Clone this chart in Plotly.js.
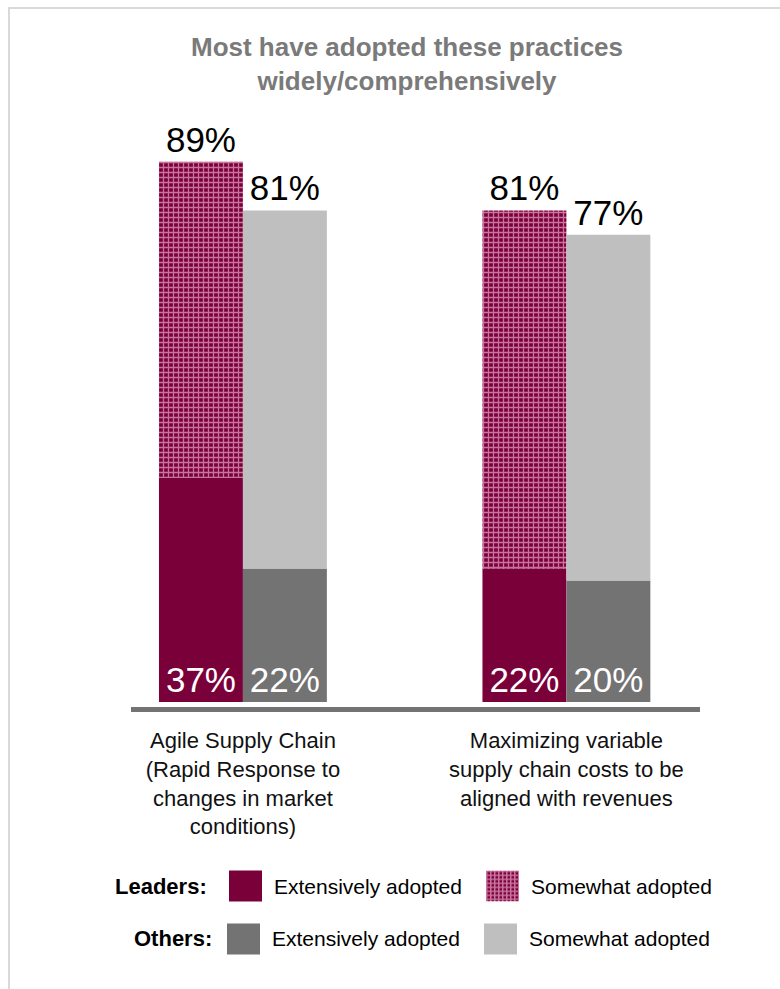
<!DOCTYPE html>
<html>
<head>
<meta charset="utf-8">
<script src="https://cdn.plot.ly/plotly-3.0.1.min.js"></script>
<style>
  html, body { margin: 0; padding: 0; background: #ffffff; }
  #chart { width: 780px; height: 989px; }
</style>
</head>
<body>
<div id="chart"></div>
<script>
// ---- data ----
const categories = [
  "Agile Supply Chain<br>(Rapid Response to<br>changes in market<br>conditions)",
  "Maximizing variable<br>supply chain costs to be<br>aligned with revenues"
];
const leadersExtensive = [37, 22];
const leadersSomewhat = [52, 59];   // totals 89, 81
const othersExtensive = [22, 20];
const othersSomewhat = [59, 57];    // totals 81, 77
const legendGroups = ["Leaders:", "Others:"];
const legendLabels = ["Extensively adopted", "Somewhat adopted"];
const titleText = "Most have adopted these practices<br>widely/comprehensively";

// ---- styling ----
const FONT = 'Arial, Liberation Sans, sans-serif';
const C_LEAD = '#7a0039';
const C_LEAD_FG = '#c9739f';
const C_OTH_EXT = '#737373';
const C_OTH_SOME = '#bfbfbf';

const W = 780, H = 989;
const M = {l: 131, r: 80, t: 120, b: 282};
const PW = W - M.l - M.r, PH = H - M.t - M.b;
const px2x = p => (p - M.l) / PW;
const py2y = p => (H - M.b - p) / PH;

const pct = v => v + '%';
const sum = (a, b) => a.map((v, i) => v + b[i]);
const leadersTotal = sum(leadersExtensive, leadersSomewhat);
const othersTotal = sum(othersExtensive, othersSomewhat);

const patternSpec = {shape: '+', bgcolor: C_LEAD, fgcolor: C_LEAD_FG, size: 5, solidity: 0.45, fillmode: 'replace'};

const traces = [
  {
    type: 'bar', x: categories, y: leadersExtensive, offsetgroup: 'L',
    marker: {color: C_LEAD, line: {width: 0}},
    text: leadersExtensive.map(pct), textposition: 'inside', insidetextanchor: 'start',
    textfont: {family: FONT, size: 35, color: '#ffffff'}, cliponaxis: false,
    hoverinfo: 'skip', showlegend: false
  },
  {
    type: 'bar', x: categories, y: leadersSomewhat, base: leadersExtensive, offsetgroup: 'L',
    marker: {color: C_LEAD, pattern: patternSpec, line: {width: 0}},
    text: leadersTotal.map(pct), textposition: 'outside',
    textfont: {family: FONT, size: 35, color: '#000000'}, cliponaxis: false,
    hoverinfo: 'skip', showlegend: false
  },
  {
    type: 'bar', x: categories, y: othersExtensive, offsetgroup: 'O',
    marker: {color: C_OTH_EXT, line: {width: 0}},
    text: othersExtensive.map(pct), textposition: 'inside', insidetextanchor: 'start',
    textfont: {family: FONT, size: 35, color: '#ffffff'}, cliponaxis: false,
    hoverinfo: 'skip', showlegend: false
  },
  {
    type: 'bar', x: categories, y: othersSomewhat, base: othersExtensive, offsetgroup: 'O',
    marker: {color: C_OTH_SOME, line: {width: 0}},
    text: othersTotal.map(pct), textposition: 'outside',
    textfont: {family: FONT, size: 35, color: '#000000'}, cliponaxis: false,
    hoverinfo: 'skip', showlegend: false
  }
];

// legend built from shapes/annotations
const shapes = [];
const annotations = [];
const images = [];
const rows = [
  {label: legendGroups[0], labelRight: 209, cy: 886, sw: [229, 486], colors: [C_LEAD, null]},
  {label: legendGroups[1], labelRight: 214, cy: 939, sw: [227, 484], colors: [C_OTH_EXT, C_OTH_SOME]}
];
const patSvg = "data:image/svg+xml;utf8," + encodeURIComponent(
  "<svg xmlns='http://www.w3.org/2000/svg' width='33' height='31'>" +
  "<defs><pattern id='p' width='4' height='4' patternUnits='userSpaceOnUse'>" +
  "<rect width='4' height='4' fill='" + C_LEAD + "'/>" +
  "<rect x='0' y='0' width='4' height='1.5' fill='" + C_LEAD_FG + "'/>" +
  "<rect x='0' y='0' width='1.5' height='4' fill='" + C_LEAD_FG + "'/>" +
  "</pattern></defs><rect width='33' height='31' fill='url(#p)'/></svg>");

rows.forEach(r => {
  annotations.push({
    xref: 'paper', yref: 'paper', x: px2x(r.labelRight), y: py2y(r.cy),
    xanchor: 'right', yanchor: 'middle', showarrow: false, text: '<b>' + r.label + '</b>',
    font: {family: FONT, size: 22, color: '#000000'}
  });
  r.sw.forEach((sx, j) => {
    if (r.colors[j]) {
      shapes.push({
        type: 'rect', xref: 'paper', yref: 'paper', layer: 'above',
        x0: px2x(sx), x1: px2x(sx + 33), y0: py2y(r.cy - 15.5), y1: py2y(r.cy + 15.5),
        fillcolor: r.colors[j], line: {width: 0}
      });
    } else {
      images.push({
        source: patSvg, xref: 'paper', yref: 'paper',
        x: px2x(sx), y: py2y(r.cy - 15.5), sizex: 33 / PW, sizey: 31 / PH,
        xanchor: 'left', yanchor: 'top', sizing: 'stretch', layer: 'above'
      });
    }
    annotations.push({
      xref: 'paper', yref: 'paper', x: px2x(sx + 43), y: py2y(r.cy),
      xanchor: 'left', yanchor: 'middle', showarrow: false, text: legendLabels[j],
      font: {family: FONT, size: 21, color: '#000000'}
    });
  });
});

// frame lines (top and left)
shapes.push({
  type: 'path', xref: 'paper', yref: 'paper', layer: 'below',
  path: 'M ' + px2x(9) + ' ' + py2y(H + 5) + ' L ' + px2x(9) + ' ' + py2y(8) + ' L ' + px2x(W + 5) + ' ' + py2y(8),
  line: {color: '#d9d9d9', width: 2}
});

const layout = {
  width: W, height: H,
  margin: M,
  paper_bgcolor: '#ffffff', plot_bgcolor: '#ffffff',
  font: {family: FONT, color: '#000000'},
  title: {
    text: '<b>' + titleText + '</b>',
    font: {family: FONT, size: 26, color: '#7a7a7a'},
    x: 407 / W, xanchor: 'center', xref: 'container',
    y: 1 - 56 / H, yanchor: 'top', yref: 'container'
  },
  barmode: 'group', bargap: 0.481, bargroupgap: 0,
  showlegend: false,
  xaxis: {
    type: 'category',
    range: [-0.346, 1.413],
    showline: true, linecolor: '#737373', linewidth: 5,
    showgrid: false, zeroline: false, ticks: '',
    ticklabelstandoff: 10,
    tickfont: {family: FONT, size: 22, color: '#111111'},
    fixedrange: true
  },
  yaxis: {
    range: [-0.824, 95.9],
    visible: false, showgrid: false, zeroline: false, fixedrange: true
  },
  shapes: shapes,
  annotations: annotations,
  images: images
};

Plotly.newPlot('chart', traces, layout, {displayModeBar: false, staticPlot: true});
</script>
</body>
</html>
